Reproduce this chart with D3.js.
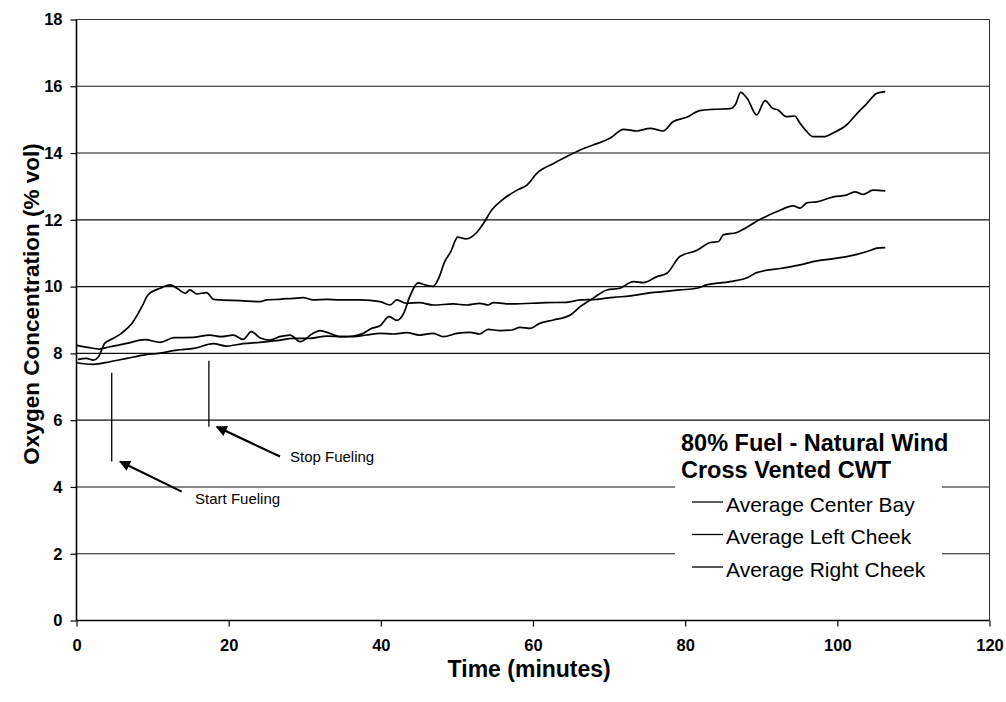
<!DOCTYPE html>
<html>
<head>
<meta charset="utf-8">
<script src="https://cdn.jsdelivr.net/npm/d3@7"></script>
<style>
  body { margin: 0; background: #fff; }
  svg { display: block; }
  text { font-family: "Liberation Sans", Arial, Helvetica, sans-serif; fill: #000; }
</style>
</head>
<body>
<svg id="chart" width="1006" height="702"></svg>
<script>
// ---- data -------------------------------------------------------------
const xTicks = [0, 20, 40, 60, 80, 100, 120];
const yTicks = [0, 2, 4, 6, 8, 10, 12, 14, 16, 18];

const seriesNames = ["Average Center Bay", "Average Left Cheek", "Average Right Cheek"];
const legendTitle = ["80% Fuel - Natural Wind", "Cross Vented CWT"];

// Average Center Bay: time (min) and O2 (% vol)
const centerBayTime = [0, 2.2, 4.4, 6.6, 8.8, 11.0, 13.2, 15.4, 18.0, 19.7, 21.9, 24.1, 26.3, 28.5, 30.7,
  32.9, 35.1, 36.4, 37.7, 38.8, 39.9, 41.1, 42.1, 43.0, 43.8, 44.9, 45.8, 46.9, 47.6, 48.4, 49.2, 50.1,
  51.2, 52.6, 53.5, 54.6, 56.1, 57.9, 59.2, 60.5, 62.7, 64.4, 66.2, 67.9, 70.1, 71.9, 73.6, 75.4, 77.1,
  78.4, 80.2, 81.9, 83.7, 85.9, 86.6, 87.3, 88.2, 89.4, 90.5, 91.5, 92.2, 93.3, 94.4, 95.1, 96.0, 96.8,
  98.2, 99.5, 101.2, 102.6, 103.9, 105.2, 106.3];
const centerBayO2 = [7.72, 7.67, 7.75, 7.85, 7.95, 8.01, 8.10, 8.15, 8.29, 8.22, 8.29, 8.33, 8.38, 8.45, 8.45,
  8.52, 8.50, 8.52, 8.60, 8.75, 8.83, 9.10, 8.99, 9.20, 9.70, 10.11, 10.05, 10.01, 10.25, 10.75, 11.05, 11.48,
  11.43, 11.62, 11.90, 12.30, 12.62, 12.89, 13.04, 13.39, 13.69, 13.89, 14.09, 14.24, 14.44, 14.71, 14.66, 14.74, 14.66,
  14.94, 15.07, 15.27, 15.31, 15.33, 15.45, 15.82, 15.62, 15.14, 15.57, 15.34, 15.29, 15.09, 15.11, 14.89, 14.64, 14.49,
  14.49, 14.61, 14.84, 15.19, 15.49, 15.79, 15.84];

// Average Left Cheek
const leftCheekTime = [0, 1.5, 3.0, 4.4, 6.6, 9.0, 11.0, 12.8, 15.4, 17.5, 19.0, 20.6, 21.9, 23.0, 24.1, 25.4,
  26.7, 28.1, 29.4, 31.1, 32.0, 33.3, 34.6, 36.4, 38.1, 39.9, 41.6, 43.4, 45.1, 46.9, 48.2, 50.0, 51.7, 53.0,
  54.1, 55.7, 57.2, 58.3, 59.6, 60.9, 62.7, 64.9, 66.2, 67.9, 69.7, 71.4, 73.2, 74.5, 76.3, 77.6, 79.3, 81.5,
  83.3, 84.4, 85.0, 86.8, 87.9, 89.4, 90.7, 92.0, 94.2, 95.1, 96.0, 97.3, 99.5, 101.2, 102.3, 103.4, 104.7, 106.3];
const leftCheekO2 = [8.24, 8.18, 8.13, 8.20, 8.30, 8.41, 8.33, 8.47, 8.48, 8.55, 8.50, 8.55, 8.42, 8.65, 8.47, 8.40,
  8.50, 8.55, 8.35, 8.60, 8.68, 8.60, 8.50, 8.50, 8.55, 8.60, 8.58, 8.62, 8.55, 8.60, 8.50, 8.60, 8.63, 8.58,
  8.72, 8.68, 8.70, 8.78, 8.75, 8.90, 9.00, 9.15, 9.40, 9.65, 9.90, 9.95, 10.15, 10.12, 10.30, 10.40, 10.90, 11.08,
  11.32, 11.35, 11.55, 11.62, 11.75, 11.96, 12.11, 12.24, 12.42, 12.35, 12.51, 12.54, 12.69, 12.74, 12.84, 12.76, 12.89, 12.87];

// Average Right Cheek
const rightCheekTime = [0.2, 1.3, 2.2, 2.9, 3.7, 4.4, 5.9, 7.3, 8.6, 9.4, 11.0, 12.3, 13.2, 14.3, 14.9, 15.8,
  17.1, 18.0, 18.9, 21.5, 24.1, 25.0, 26.7, 28.5, 29.8, 31.1, 32.9, 34.6, 37.3, 39.9, 41.2, 42.1, 43.4, 45.1,
  46.9, 49.5, 51.3, 53.0, 54.1, 54.8, 57.2, 61.8, 64.4, 66.2, 68.4, 70.6, 72.8, 74.9, 77.1, 79.3, 81.5, 82.8,
  85.9, 88.3, 89.4, 92.7, 95.1, 96.8, 99.5, 101.7, 103.9, 105.2, 106.3];
const rightCheekO2 = [7.82, 7.85, 7.80, 7.90, 8.30, 8.40, 8.60, 8.90, 9.40, 9.75, 9.95, 10.05, 9.95, 9.80, 9.90, 9.78,
  9.82, 9.62, 9.60, 9.58, 9.55, 9.60, 9.62, 9.65, 9.67, 9.60, 9.62, 9.60, 9.60, 9.55, 9.45, 9.60, 9.50, 9.52,
  9.45, 9.48, 9.45, 9.50, 9.45, 9.52, 9.48, 9.52, 9.53, 9.60, 9.62, 9.68, 9.72, 9.80, 9.85, 9.90, 9.95, 10.05,
  10.15, 10.28, 10.42, 10.55, 10.65, 10.75, 10.84, 10.92, 11.05, 11.15, 11.17];

// Fueling event markers (time in min, O2 span of the marker) and their callouts
const eventLabels = ["Start Fueling", "Stop Fueling"];
const eventTimes = [4.63, 17.4];
const eventTop = [7.42, 7.78];
const eventBottom = [4.76, 5.80];
const calloutTail = [[13.83, 3.86], [26.75, 4.91]];
const calloutHead = [[5.72, 4.76], [18.43, 5.80]];
const calloutText = [[15.58, 3.66], [28.06, 4.91]];

// ---- layout ------------------------------------------------------------
const W = 1006, H = 702;
const margin = { left: 76.5, right: 16.5, top: 19.5, bottom: 81.5 };

const svg = d3.select("#chart");
svg.append("rect").attr("width", W).attr("height", H).attr("fill", "#fff");

const x = d3.scaleLinear().domain([0, 120]).range([margin.left, W - margin.right]);
const y = d3.scaleLinear().domain([0, 18]).range([H - margin.bottom, margin.top]);

// horizontal gridlines
svg.append("g")
  .selectAll("line")
  .data(yTicks.filter(v => v > 0 && v < 18))
  .join("line")
  .attr("x1", x(0)).attr("x2", x(120))
  .attr("y1", d => y(d)).attr("y2", d => y(d))
  .attr("stroke", "#111").attr("stroke-width", 1.1);

// plot frame: thin top and right edges
svg.append("path")
  .attr("d", `M${x(0)},${y(18)}H${x(120)}V${y(0)}`)
  .attr("fill", "none").attr("stroke", "#333").attr("stroke-width", 1);

// legend panel (white block sitting over the gridlines)
svg.append("rect")
  .attr("x", 675).attr("y", 431).attr("width", 267).attr("height", 162)
  .attr("fill", "#fff");

// axes
const xAxis = d3.axisBottom(x).tickValues(xTicks).tickFormat(d3.format("d"))
  .tickSize(6).tickPadding(13);
const yAxis = d3.axisLeft(y).tickValues(yTicks).tickFormat(d3.format("d"))
  .tickSize(6).tickPadding(8);

const gx = svg.append("g").attr("transform", `translate(0,${y(0)})`).call(xAxis);
const gy = svg.append("g").attr("transform", `translate(${x(0)},0)`).call(yAxis);

[gx, gy].forEach(g => {
  g.select(".domain").attr("stroke", "#000").attr("stroke-width", 1.6);
  g.selectAll(".tick line").attr("stroke", "#000").attr("stroke-width", 1.2);
  g.selectAll(".tick text")
    .style("font-family", '"Liberation Sans", Arial, sans-serif')
    .style("font-size", "16.5px").style("font-weight", "bold").attr("fill", "#000");
});
gx.select(".domain").attr("d", `M${x(0)},0H${x(120)}`);
gy.select(".domain").attr("d", `M0,${y(0)}V${y(18)}`);

// axis titles
svg.append("text")
  .attr("transform", `translate(31,${y(9) - 16}) rotate(-90)`)
  .attr("text-anchor", "middle").attr("dominant-baseline", "central")
  .style("font-size", "22.5px").style("font-weight", "bold")
  .text("Oxygen Concentration (% vol)");

svg.append("text")
  .attr("x", x(59.5)).attr("y", 677)
  .attr("text-anchor", "middle")
  .style("font-size", "23px").style("font-weight", "bold")
  .text("Time (minutes)");

// series lines
const series = [
  { name: seriesNames[0], t: centerBayTime, v: centerBayO2 },
  { name: seriesNames[1], t: leftCheekTime, v: leftCheekO2 },
  { name: seriesNames[2], t: rightCheekTime, v: rightCheekO2 }
];

const line = d3.line()
  .x(d => x(d[0])).y(d => y(d[1]))
  .curve(d3.curveMonotoneX);

svg.append("g")
  .selectAll("path")
  .data(series)
  .join("path")
  .attr("d", s => line(s.t.map((t, i) => [t, s.v[i]])))
  .attr("fill", "none")
  .attr("stroke", "#000")
  .attr("stroke-width", 1.7)
  .attr("stroke-linejoin", "round");

// fueling markers and callouts
svg.append("defs").append("marker")
  .attr("id", "arrowhead")
  .attr("viewBox", "0 0 10 10")
  .attr("refX", 9).attr("refY", 5)
  .attr("markerWidth", 6.5).attr("markerHeight", 5)
  .attr("markerUnits", "strokeWidth")
  .attr("orient", "auto")
  .append("path").attr("d", "M0,0L10,5L0,10Z").attr("fill", "#000");

const ev = svg.append("g");
eventTimes.forEach((t, i) => {
  ev.append("line")
    .attr("x1", x(t)).attr("x2", x(t))
    .attr("y1", y(eventTop[i])).attr("y2", y(eventBottom[i]))
    .attr("stroke", "#000").attr("stroke-width", 1.3);
  ev.append("line")
    .attr("x1", x(calloutTail[i][0])).attr("y1", y(calloutTail[i][1]))
    .attr("x2", x(calloutHead[i][0])).attr("y2", y(calloutHead[i][1]))
    .attr("stroke", "#000").attr("stroke-width", 2.2)
    .attr("marker-end", "url(#arrowhead)");
  ev.append("text")
    .attr("x", x(calloutText[i][0])).attr("y", y(calloutText[i][1]))
    .attr("dominant-baseline", "central")
    .style("font-size", "15px")
    .text(eventLabels[i]);
});

// legend
const lg = svg.append("g");
legendTitle.forEach((t, i) => {
  lg.append("text")
    .attr("x", 681).attr("y", 443 + i * 27)
    .attr("dominant-baseline", "central")
    .style("font-size", "23.5px").style("font-weight", "bold")
    .text(t);
});
seriesNames.forEach((name, i) => {
  const cy = 504 + i * 32.5;
  lg.append("line")
    .attr("x1", 692).attr("x2", 723)
    .attr("y1", cy - 2).attr("y2", cy - 2)
    .attr("stroke", "#000").attr("stroke-width", 1.3);
  lg.append("text")
    .attr("x", 726).attr("y", cy)
    .attr("dominant-baseline", "central")
    .style("font-size", "21px")
    .text(name);
});
</script>
</body>
</html>
